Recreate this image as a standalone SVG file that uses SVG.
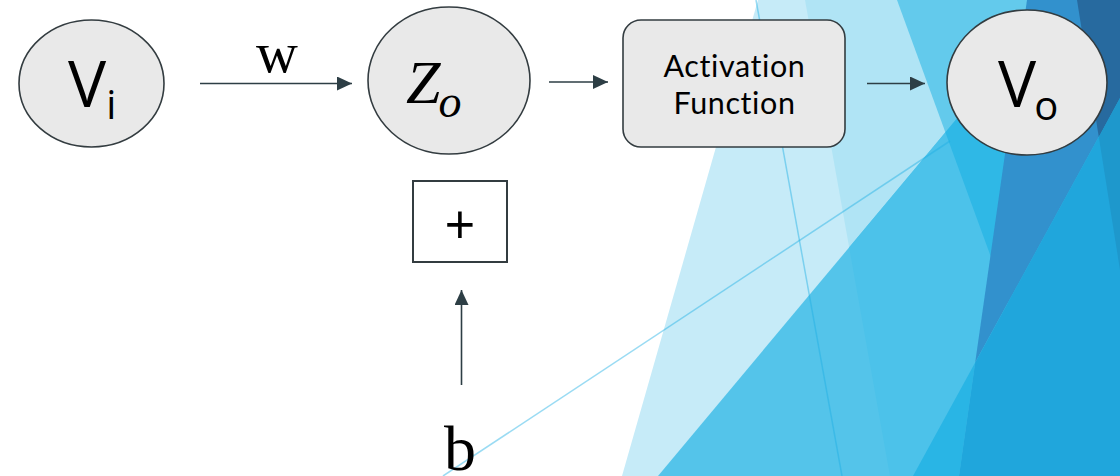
<svg xmlns="http://www.w3.org/2000/svg" width="1120" height="476" viewBox="0 0 1120 476">
  <defs>
    <style>
      .node { fill: #E9E9E9; stroke: #333C40; stroke-width: 1.6; }
      .conn { stroke: #2D3E45; stroke-width: 1.6; fill: none; marker-end: url(#arrow); }
      .sans { font-family: "Open Sans", "DejaVu Sans", sans-serif; fill: #000; }
      .label { font-family: Lato, "Open Sans", sans-serif; fill: #000; }
      .serif { font-family: "Liberation Serif", "DejaVu Serif", serif; fill: #000; }
      .thin { stroke: #1EB0E4; stroke-opacity: 0.45; stroke-width: 1.5; fill: none; }
    </style>
    <marker id="arrow" viewBox="0 0 15 14" refX="15" refY="7" markerWidth="15" markerHeight="14" markerUnits="userSpaceOnUse" orient="auto">
      <path d="M0,0 L15,7 L0,14 z" fill="#2D3E45"/>
    </marker>
    <clipPath id="belowC">
      <polygon points="658,476 1056,0 1120,0 1120,476"/>
    </clipPath>
  </defs>

  <rect width="1120" height="476" fill="#FFFFFF"/>

  <!-- background facets -->
  <g id="background">
    <polygon points="758,0 1120,0 1120,476 622,476" fill="#C6EBF8"/>
    <polygon points="805,0 1120,0 1120,476 890,476" fill="#B0E4F5"/>
    <polygon points="897,0 1120,0 1120,476 1071,476" fill="#63CAEC"/>
    <g clip-path="url(#belowC)">
      <rect x="600" y="0" width="520" height="476" fill="#54C4EA"/>
      <polygon points="805,0 1120,0 1120,476 890,476" fill="#4CC2EA"/>
      <polygon points="897,0 1120,0 1120,476 1071,476" fill="#2FB8E6"/>
    </g>
    <polygon points="1027,0 1120,0 1120,98 975.2,362.5" fill="#3291CD"/>
    <polygon points="913,476 975.2,362.5 959,476" fill="#29B5E5"/>
    <polygon points="975.2,362.5 1120,98 1120,476 959,476" fill="#20A6DC"/>
    <polygon points="1077,0 1120,0 1120,98 1098.8,137" fill="#276A9F"/>
    <polygon points="1098.8,137 1120,98 1120,270" fill="#1E98CC"/>
    <line class="thin" x1="756" y1="0" x2="842" y2="476"/>
    <line class="thin" x1="443" y1="476" x2="950" y2="141"/>
  </g>

  <!-- connectors -->
  <g id="connectors">
    <line class="conn" x1="200" y1="83.5" x2="352" y2="83.5"/>
    <line class="conn" x1="549" y1="82" x2="608" y2="82"/>
    <line class="conn" x1="867" y1="83.5" x2="925" y2="83.5"/>
    <line class="conn" x1="461.5" y1="385" x2="461.5" y2="290"/>
    <text class="serif" x="277" y="72" font-size="58" text-anchor="middle">w</text>
  </g>

  <g id="node-vi">
    <ellipse class="node" cx="91.5" cy="83.5" rx="72.5" ry="63.5"/>
    <text class="sans" x="68" y="107" font-size="64">V<tspan dy="12" font-size="40">i</tspan></text>
  </g>

  <g id="node-zo">
    <ellipse class="node" cx="449" cy="80.5" rx="81" ry="73.5"/>
    <text class="serif" x="406" y="103" font-size="62" font-style="italic">Z<tspan dx="-2" dy="14" font-size="46">o</tspan></text>
  </g>

  <g id="node-activation">
    <rect class="node" x="623" y="20" width="222" height="127" rx="18" ry="18" stroke-width="2"/>
    <text class="label" font-size="30.5" letter-spacing="0.6" text-anchor="middle"><tspan x="734.5" y="77">Activation</tspan><tspan x="734.5" y="114">Function</tspan></text>
  </g>

  <g id="node-vo">
    <ellipse class="node" cx="1027" cy="82.5" rx="80" ry="72.5"/>
    <text class="sans" x="998" y="107" font-size="64">V<tspan dx="-2" dy="13" font-size="40">o</tspan></text>
  </g>

  <g id="node-plus">
    <rect x="413" y="181" width="94" height="81" fill="#FFFFFF" stroke="#333C40" stroke-width="2"/>
    <text class="sans" x="460" y="244" font-size="54" text-anchor="middle">+</text>
  </g>

  <g id="node-b">
    <text class="serif" x="460" y="470" font-size="64" text-anchor="middle">b</text>
  </g>
</svg>
